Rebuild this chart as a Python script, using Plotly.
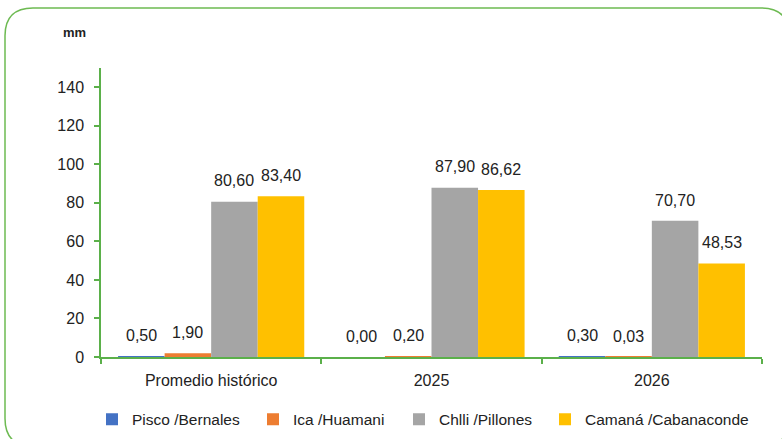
import plotly.graph_objects as go

categories = ["Promedio histórico", "2025", "2026"]
series_names = ["Pisco /Bernales", "Ica /Huamani", "Chlli /Pillones", "Camaná /Cabanaconde"]
pisco = [0.50, 0.00, 0.30]
ica = [1.90, 0.20, 0.03]
chlli = [80.60, 87.90, 70.70]
camana = [83.40, 86.62, 48.53]
y_ticks = [0, 20, 40, 60, 80, 100, 120, 140]

colors = ["#4472C4", "#ED7D31", "#A5A5A5", "#FFC000"]
legend_text_x = [133, 294, 440, 586]  # pixel where each legend label starts
FONT = "Liberation Sans, Arial, sans-serif"
TXT = "#222222"

# layout in reference pixels (782 x 439)
W, REF_H = 782, 439
ML, MR, MT, MB = 101, 20, 66, 82
PW, PH = W - ML - MR, REF_H - MT - MB
# the page is photographed through a slightly taller viewport, compensate vertically
H = 449
K = H / REF_H

BARGAP = 0.155
GREEN_AX = "#5BB04A"
GREEN_BORDER = "#6DBA52"

def fmt(v):
    return f"{v:.2f}".replace(".", ",")

def px(x):
    return (x - ML) / PW

def py(y):
    return (MT + PH - y) / PH

fig = go.Figure()
all_series = [pisco, ica, chlli, camana]
legend_ids = ["legend", "legend2", "legend3", "legend4"]
for name, vals, col, lid in zip(series_names, all_series, colors, legend_ids):
    fig.add_trace(go.Bar(name=name, x=categories, y=vals, legend=lid,
                         marker=dict(color=col, line=dict(width=0))))

# data labels (x given as category index on the category axis)
cat_w = PW / len(categories)
bar_w = cat_w * (1 - BARGAP) / len(all_series)
annotations = []
for i, vals in enumerate(all_series):
    shift = (i - (len(all_series) - 1) / 2) * bar_w
    for ci, v in enumerate(vals):
        annotations.append(dict(x=ci, y=v, xref="x", yref="y", text=fmt(v), showarrow=False,
                                xshift=shift, yshift=10 * K, yanchor="bottom",
                                font=dict(family=FONT, size=16, color=TXT)))

annotations.append(dict(x=px(74.5), y=py(30.5), xref="paper", yref="paper",
                        text="<b>mm</b>", showarrow=False, xanchor="center", yanchor="middle",
                        font=dict(family=FONT, size=13, color=TXT)))

L, T, R, B, r = 5, 5.5, 789, 447, 28
path = (f"M {px(L)},{py(T + r)} Q {px(L)},{py(T)} {px(L + r)},{py(T)} "
        f"L {px(R - r)},{py(T)} Q {px(R)},{py(T)} {px(R)},{py(T + r)} "
        f"L {px(R)},{py(B - r)} Q {px(R)},{py(B)} {px(R - r)},{py(B)} "
        f"L {px(L + r)},{py(B)} Q {px(L)},{py(B)} {px(L)},{py(B - r)} Z")

legends = {}
for lid, tx in zip(legend_ids, legend_text_x):
    legends[lid] = dict(orientation="h", x=px(tx - 41), xanchor="left", y=py(420), yanchor="middle",
                        font=dict(family=FONT, size=15.5, color=TXT), itemwidth=30,
                        bgcolor="rgba(0,0,0,0)")

fig.update_layout(
    width=W, height=H, autosize=False,
    margin=dict(l=ML, r=MR, t=MT * K, b=MB * K, pad=0),
    paper_bgcolor="white", plot_bgcolor="white",
    barmode="group", bargap=BARGAP, bargroupgap=0,
    separators=",.",
    font=dict(family=FONT, size=16, color=TXT),
    showlegend=True,
    annotations=annotations,
    shapes=[dict(type="path", path=path, xref="paper", yref="paper",
                 line=dict(color=GREEN_BORDER, width=1.5), fillcolor="rgba(0,0,0,0)", layer="below")],
    **legends,
)
fig.update_xaxes(type="category", range=[-0.5, len(categories) - 0.5], automargin=False, showline=True,
                 linecolor=GREEN_AX, linewidth=1.5,
                 ticks="outside", tickson="boundaries", tickangle=0, ticklabelstandoff=8,
                 tickcolor=GREEN_AX, ticklen=5, tickwidth=1.5, showgrid=False,
                 tickfont=dict(family=FONT, size=16, color=TXT))
fig.update_yaxes(range=[0, 150], tickvals=y_ticks, automargin=False, showline=True, linecolor=GREEN_AX,
                 linewidth=1.5, ticks="outside", tickcolor=GREEN_AX, ticklen=5, tickwidth=1.5,
                 ticklabelstandoff=7, showgrid=False, zeroline=False,
                 tickfont=dict(family=FONT, size=16, color=TXT))

fig.write_html("out.html", config={"displayModeBar": False},
               post_script="document.body.style.margin='0';")
